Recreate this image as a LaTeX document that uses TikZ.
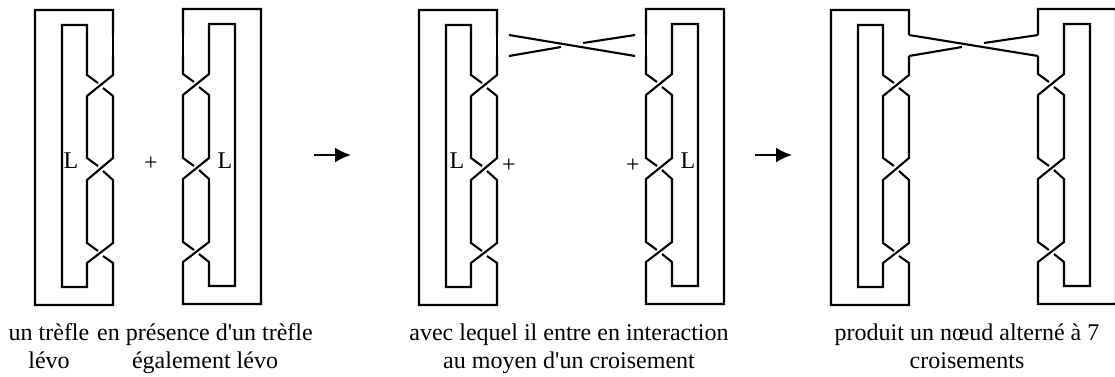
\documentclass[tikz,border=0pt]{standalone}
\usepackage{fontspec}
\newfontfamily\texte{Liberation Serif}
\usetikzlibrary{arrows.meta}

\tikzset{
	brin/.style={line width=2.1pt},
	fleche/.style={line width=2.1pt,-{Latex[length=16pt,width=15pt]}},
	legende/.style={anchor=base,inner sep=0pt,font=\texte\fontsize{24}{28}\selectfont},
	lettre/.style={inner sep=0pt,font=\texte\fontsize{24}{28}\selectfont}
}

\begin{document}
\begin{tikzpicture}[x=1pt,y=-1pt]
	
	\useasboundingbox (0,0) rectangle (1115,376);
	
	% noeud de gauche
	\foreach \dx in {0,384,796}{
		\begin{scope}[xshift=\dx pt]
			\draw[brin] (98,83) -- (87,75) -- (87,25) -- (62,25) -- (62,287) -- (87,287) -- (87,263) -- (113,243) -- (113,180) -- (103,171);
			\draw[brin] (98,166) -- (87,158) -- (87,96) -- (113,75) -- (113,56);
			\draw[brin] (113,35) -- (113,10) -- (35,10) -- (35,305) -- (113,305) -- (113,263) -- (103,256);
			\draw[brin] (98,251) -- (87,243) -- (87,180) -- (113,158) -- (113,96) -- (103,88);
		\end{scope}
	}
	
	% noeud de droite
	\foreach \dx in {0,463,855}{
		\begin{scope}[xshift=\dx pt]
			\draw[brin] (194,82) -- (183,74) -- (183,56);
			\draw[brin] (183,35) -- (183,9) -- (261,9) -- (261,304) -- (183,304) -- (183,262) -- (209,242) -- (209,179) -- (199,170);
			\draw[brin] (194,166) -- (183,158) -- (183,95) -- (209,74) -- (209,24) -- (235,24) -- (235,286) -- (209,286) -- (209,262) -- (199,254);
			\draw[brin] (194,250) -- (183,242) -- (183,179) -- (209,158) -- (209,95) -- (199,87);
		\end{scope}
	}
	
	% tronçons verticaux quand il n'y a pas de croisement
	\draw[brin] (113,35) -- (113,56);
	\draw[brin] (183,35) -- (183,56);
	\draw[brin] (497,35) -- (497,56);
	\draw[brin] (646,35) -- (646,56);
	
	% croisement seul
	\coordinate (a) at (509,35);
	\coordinate (b) at (635,56);
	\coordinate (c) at (509,56);
	\coordinate (d) at (561,47);
	\coordinate (e) at (583,43);
	\coordinate (f) at (635,35);
	\draw[brin] (a) -- (b);
	\draw[brin] (c) -- (d);
	\draw[brin] (e) -- (f);
	
	% croisement relie aux deux noeuds
	\coordinate (g) at (909,35);
	\coordinate (h) at (1038,56);
	\coordinate (i) at (909,56);
	\coordinate (j) at (962,47);
	\coordinate (k) at (984,43);
	\coordinate (l) at (1038,35);
	\draw[brin] (g) -- (h);
	\draw[brin] (i) -- (j);
	\draw[brin] (k) -- (l);
	
	% fleches
	\coordinate (f1a) at (314,155);
	\coordinate (f1b) at (351,155);
	\coordinate (f2a) at (755,155);
	\coordinate (f2b) at (792,155);
	\draw[fleche] (f1a) -- (f1b);
	\draw[fleche] (f2a) -- (f2b);
	
	\node[lettre] (l1) at (71,161) {L};
	\node[lettre] (l2) at (225,161) {L};
	\node[lettre] (l3) at (457,161) {L};
	\node[lettre] (l4) at (688,161) {L};
	\node[lettre] (p1) at (151,164) {+};
	\node[lettre] (p2) at (509,166) {+};
	\node[lettre] (p3) at (633,166) {+};
	
	\node[legende] (t1) at (49,340) {un trèfle};
	\node[legende] (t2) at (49,368) {lévo};
	\node[legende] (t3) at (205,340) {en présence d'un trèfle};
	\node[legende] (t4) at (205,368) {également lévo};
	\node[legende] (t5) at (569,340) {avec lequel il entre en interaction};
	\node[legende] (t6) at (569,368) {au moyen d'un croisement};
	\node[legende] (t7) at (967,340) {produit un nœud alterné à 7};
	\node[legende] (t8) at (967,368) {croisements};
	
\end{tikzpicture}
\end{document}
